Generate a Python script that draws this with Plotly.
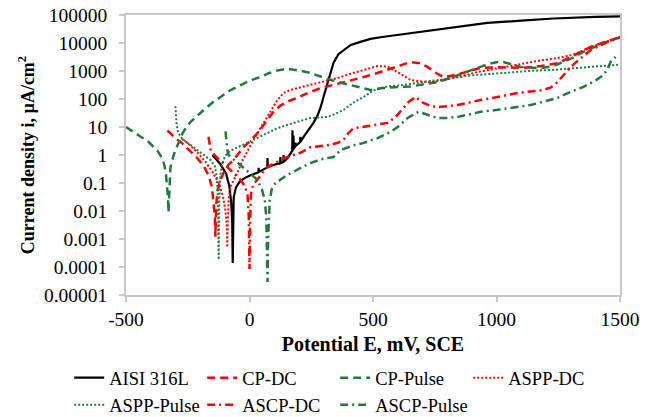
import plotly.graph_objects as go

# ---------------- data (Potential E in mV, current density in µA/cm²) ----------------
aisi_x = [-150, -120, -95, -82, -74, -70, -68, -66, -64, -55, -40, -20, 4, 36, 37, 38, 55, 72, 73, 74,
          100, 124, 125, 126, 137, 138, 139, 155, 166, 173, 174, 175, 177, 178, 179, 185, 186, 187,
          205, 206, 207, 219, 240, 259, 275, 288, 300, 316, 328, 340, 360, 381, 410, 449, 490, 530,
          600, 692, 800, 963, 1100, 1231, 1400, 1500]
aisi_y = [1.0, 0.5, 0.22, 0.08, 0.02, 0.004, 0.00014, 0.003, 0.03, 0.07, 0.11, 0.15, 0.19, 0.24, 0.35, 0.25,
          0.3, 0.36, 0.78, 0.37, 0.45, 0.5, 0.85, 0.51, 0.56, 1.0, 0.57, 0.8, 1.2, 1.4, 7.7, 1.5, 1.6, 5.0,
          1.7, 2.0, 2.8, 2.1, 2.9, 4.5, 3.0, 4.4, 8, 14, 25, 51, 120, 373, 900, 1940, 4000, 5600, 8500,
          11000, 14000, 16000, 19500, 24500, 33000, 52000, 63000, 75000, 86000, 90000]

cpdc_x = [-332, -300, -270, -240, -210, -185, -165, -152, -145, -140, -138, -135, -130, -120, -105, -85,
          -65, -45, -24, 0, 32, 55, 73, 97, 125, 160, 194, 240, 288, 340, 397, 460, 518, 559, 600, 652,
          690, 721, 750, 786, 830, 866, 935, 1004, 1050, 1109, 1180, 1247, 1310, 1381, 1440, 1500]
cpdc_y = [7.5, 4.0, 2.5, 1.4, 0.75, 0.4, 0.18, 0.07, 0.02, 0.006, 0.0012, 0.015, 0.05, 0.12, 0.23, 0.45,
          0.66, 1.1, 1.9, 3.0, 6, 11, 18, 35, 58, 85, 110, 170, 245, 320, 410, 600, 850, 1100, 1500, 2100,
          1900, 1400, 900, 610, 700, 850, 1300, 1350, 1300, 1300, 1500, 1900, 3500, 7200, 11000, 16000]

cppulse_x = [-500, -470, -440, -413, -390, -372, -355, -345, -338, -333, -330, -328, -326, -323, -320, -310,
             -300, -285, -271, -255, -239, -210, -186, -150, -117, -80, -36, 5, 45, 80, 113, 140, 166, 200,
             247, 290, 328, 370, 409, 450, 490, 530, 571, 652, 700, 761, 800, 842, 890, 935, 970, 1004,
             1028, 1060, 1097, 1150, 1190, 1230, 1271, 1310, 1352, 1400, 1433, 1470, 1500]
cppulse_y = [10, 6.5, 4.5, 3.2, 2.0, 1.4, 0.8, 0.45, 0.2, 0.08, 0.03, 0.009, 0.04, 0.15, 0.37, 0.8,
             1.5, 3, 6, 10, 15, 26, 41, 75, 118, 200, 316, 470, 610, 850, 1050, 1150, 1150, 1050,
             850, 620, 480, 380, 316, 260, 210, 240, 260, 280, 320, 400, 520, 720, 1000, 1400, 1800, 2100,
             2100, 1700, 1400, 1300, 1300, 1500, 2100, 3000, 4800, 7500, 10000, 13000, 16000]

asppdc_x = [-272, -240, -210, -180, -150, -125, -108, -97, -92, -90, -88, -84, -75, -60, -49, -30, -8, 12,
            32, 52, 73, 95, 113, 138, 165, 194, 235, 275, 320, 356, 410, 462, 518, 560, 599, 630, 652, 700,
            733, 780, 826, 870, 923, 1004, 1060, 1109, 1180, 1247, 1310, 1381, 1440, 1500]
asppdc_y = [3.7, 2.2, 1.2, 0.6, 0.25, 0.1, 0.035, 0.01, 0.003, 0.0005, 0.004, 0.03, 0.08, 0.15, 0.23, 0.6,
            1.5, 3, 6, 12, 23, 48, 92, 163, 210, 245, 300, 370, 460, 560, 800, 1100, 1500, 1450, 920, 600,
            480, 420, 400, 470, 560, 700, 920, 1250, 1600, 1950, 2400, 2900, 3800, 7200, 11000, 16000]

aspppulse_x = [-300, -298, -295, -290, -280, -267, -240, -211, -185, -158, -140, -132, -128, -125, -122,
               -118, -110, -100, -89, -60, -36, 0, 45, 80, 113, 154, 200, 247, 287, 316, 350, 381, 421,
               462, 500, 530, 560, 624, 700, 826, 900, 1028, 1130, 1231, 1350, 1500]
aspppulse_y = [55, 25, 12, 7, 4.5, 3.5, 2.3, 1.5, 1.0, 0.66, 0.4, 0.15, 0.03, 0.00018, 0.03,
               0.2, 0.5, 0.85, 1.2, 1.7, 2.1, 3.0, 4.4, 6.5, 9, 12, 16, 21, 22, 23, 30, 41, 75,
               118, 200, 245, 280, 316, 400, 560, 700, 850, 1000, 1100, 1300, 1700]

ascpdc_x = [-166, -163, -158, -150, -130, -100, -77, -55, -36, -20, -8, -3, 0, 3, 6, 12, 20, 32, 50, 73,
            100, 125, 160, 206, 247, 290, 328, 360, 381, 400, 421, 470, 518, 559, 590, 611, 644, 672, 704,
            730, 761, 800, 842, 890, 935, 1004, 1085, 1190, 1220, 1247, 1275, 1300, 1340, 1381, 1440, 1500]
ascpdc_y = [4.5, 2.7, 1.6, 1.2, 0.78, 0.45, 0.29, 0.18, 0.13, 0.08, 0.04, 0.006, 0.000085, 0.006, 0.04,
            0.07, 0.1, 0.13, 0.22, 0.37, 0.5, 0.66, 0.9, 1.2, 1.9, 2.1, 2.3, 2.8, 3.5, 6, 9, 10.5, 12, 14,
            22, 35, 78, 118, 72, 58, 51, 55, 61, 75, 92, 118, 163, 210, 260, 400, 750, 1400, 2800, 5600,
            10000, 16000]

ascppulse_x = [-97, -95, -90, -85, -77, -50, -24, 5, 32, 50, 62, 68, 71, 73, 75, 78, 82, 90, 105, 125,
               150, 178, 210, 247, 288, 340, 369, 420, 462, 518, 545, 571, 600, 640, 684, 720, 761, 800,
               842, 890, 935, 1004, 1080, 1138, 1190, 1247, 1300, 1352, 1400, 1433, 1450, 1462, 1482]
ascppulse_y = [7, 3.5, 1.5, 1.0, 0.85, 0.55, 0.35, 0.2, 0.13, 0.06, 0.025, 0.006, 0.0008, 0.000029,
               0.0008, 0.006, 0.025, 0.06, 0.1, 0.13, 0.19, 0.25, 0.36, 0.51, 0.7, 0.85, 1.5, 2.2, 2.7,
               4, 5, 6.6, 10, 21, 35, 28, 21, 21, 23, 28, 35, 41, 52, 61, 80, 110, 180, 270, 450, 720,
               1200, 2100, 3200]

x_ticks = [-500, 0, 500, 1000, 1500]
y_ticks = [1e-5, 1e-4, 1e-3, 1e-2, 1e-1, 1, 10, 100, 1000, 10000, 100000]
y_tick_labels = ["0.00001", "0.0001", "0.001", "0.01", "0.1", "1", "10", "100", "1000", "10000", "100000"]

RED = "#FF0000"
GREEN = "#1E7B3C"

series = [
    ("AISI 316L", aisi_x, aisi_y, "#000000", "solid", 2.2),
    ("CP-DC", cpdc_x, cpdc_y, RED, "8px,5px", 2.5),
    ("CP-Pulse", cppulse_x, cppulse_y, GREEN, "8px,5px", 2.5),
    ("ASPP-DC", asppdc_x, asppdc_y, RED, "2px,2px", 2),
    ("ASPP-Pulse", aspppulse_x, aspppulse_y, GREEN, "2px,2px", 2),
    ("ASCP-DC", ascpdc_x, ascpdc_y, RED, "8px,4px,2px,4px", 2.5),
    ("ASCP-Pulse", ascppulse_x, ascppulse_y, GREEN, "8px,4px,2px,4px", 2.5),
]

fig = go.Figure()
for name, xs, ys, col, dash, w in series:
    fig.add_trace(go.Scatter(x=xs, y=ys, name=name, mode="lines",
                             line=dict(color=col, dash=dash, width=w)))

AX = "#C8C8C8"
fig.update_layout(
    width=651, height=417,
    margin=dict(l=126, r=31, t=15, b=122, autoexpand=False),
    plot_bgcolor="white", paper_bgcolor="white",
    font=dict(family="Liberation Serif", size=19.5, color="#000000"),
    showlegend=True,
    legend=dict(orientation="h", x=-0.115, xanchor="left", y=-0.229, yanchor="top",
                entrywidth=88, entrywidthmode="pixels", font=dict(size=18.5),
                bgcolor="rgba(0,0,0,0)", tracegroupgap=0),
)
fig.update_xaxes(range=[-500, 1500], tickvals=x_ticks, ticktext=[str(v) for v in x_ticks],
                 showline=True, linecolor=AX, linewidth=1.5, mirror=True,
                 ticks="outside", ticklen=5, tickcolor=AX, tickwidth=1.5, automargin=False,
                 showgrid=False, zeroline=False, ticklabelstandoff=1,
                 title=dict(text="<b>Potential E, mV, SCE</b>", font=dict(size=20), standoff=8))
fig.update_yaxes(type="log", range=[-5, 5], tickvals=y_ticks, ticktext=y_tick_labels,
                 showline=True, linecolor=AX, linewidth=1.5, mirror=True,
                 ticks="outside", ticklen=5, tickcolor=AX, tickwidth=1.5, automargin=False,
                 showgrid=False, zeroline=False, ticklabelstandoff=8,
                 title=dict(text="<b>Current density i, µA/cm<sup>2</sup></b>", font=dict(size=18), standoff=5))

# remove the browser's default 8px page margin so the figure fills the window
fig.write_html("out.html", config={"displayModeBar": False},
               post_script="document.body.style.margin='0px';")
